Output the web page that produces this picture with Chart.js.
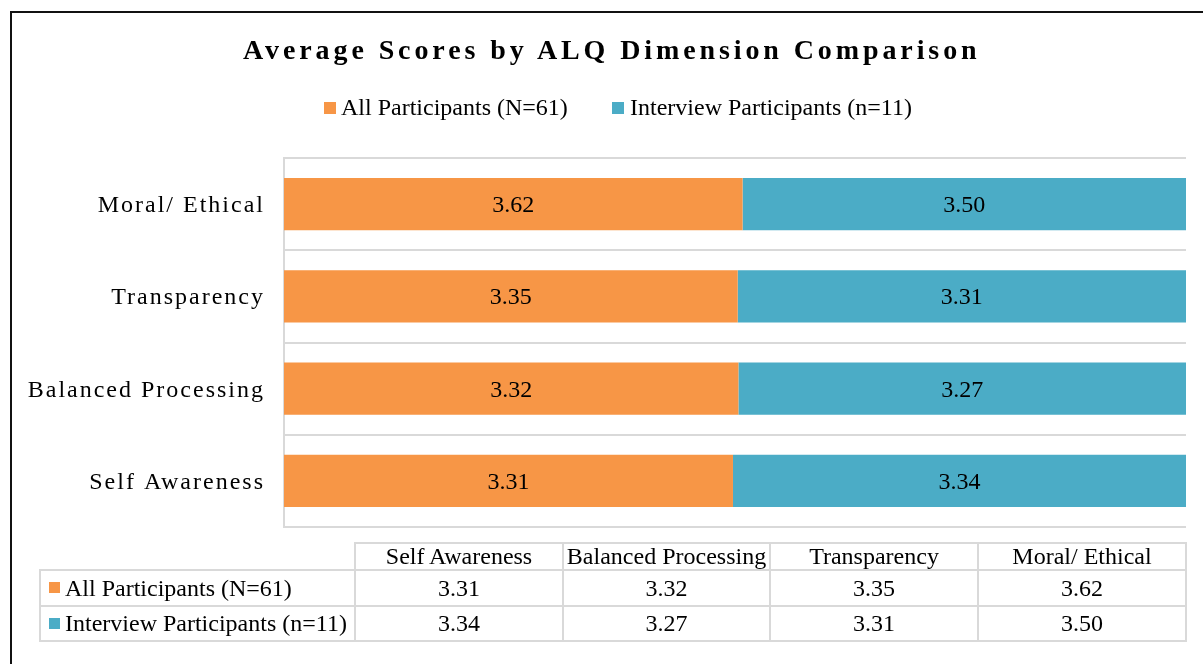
<!DOCTYPE html>
<html>
<head>
<meta charset="utf-8">
<script src="https://cdn.jsdelivr.net/npm/chart.js@4.4.0/dist/chart.umd.min.js"></script>
<style>
  html, body { margin:0; padding:0; background:#fff; }
  body { width:1203px; height:664px; position:relative; overflow:hidden;
         font-family:"Liberation Serif","Times New Roman",serif; color:#000; }
  #frame { position:absolute; left:10px; top:11px; width:1300px; height:700px;
           border:2px solid #111; box-sizing:border-box; }
  #chart { position:absolute; left:0; top:0; }
  .txt { position:absolute; white-space:nowrap; line-height:normal; }
  #title { font-size:28px; font-weight:bold; letter-spacing:3.9px; left:243px; top:34px; }
  .key { position:absolute; width:12px; height:12px; }
  .cell { position:absolute; box-sizing:border-box; border:2px solid #d9d9d9;
          font-size:24px; display:flex; align-items:center; justify-content:center; white-space:nowrap; }
  .cell.rowhead { justify-content:flex-start; padding-left:24px; }
  .cell .key { position:absolute; left:8px; top:50%; margin-top:-6px; width:11px; height:11px; }
</style>
</head>
<body>
<div id="frame"></div>
<canvas id="chart" width="1203" height="664"></canvas>
<div id="title" class="txt">Average Scores by ALQ Dimension Comparison</div>
<div id="legend"></div>
<div id="table"></div>
<script>
// ALQ dimensions, bottom-to-top on the chart (same order as the data table)
const categories = ["Self Awareness", "Balanced Processing", "Transparency", "Moral/ Ethical"];
const seriesNames = ["All Participants (N=61)", "Interview Participants (n=11)"];
const allParticipants = [3.31, 3.32, 3.35, 3.62];
const interviewParticipants = [3.34, 3.27, 3.31, 3.50];
const seriesColors = ["#F79646", "#4BACC6"];

const seriesValues = [allParticipants, interviewParticipants];

// 100% stacked: each bar shows its share of the category total
function shares(idx){
  return categories.map((_, i) => {
    const tot = allParticipants[i] + interviewParticipants[i];
    return seriesValues[idx][i] / tot;
  });
}

// legend (html)
const legend = document.getElementById("legend");
const legendPos = [{key:324, text:341}, {key:612, text:630}];
seriesNames.forEach((name, i) => {
  const k = document.createElement("div");
  k.className = "key";
  k.style.left = legendPos[i].key + "px";
  k.style.top = "102px";
  k.style.background = seriesColors[i];
  legend.appendChild(k);
  const t = document.createElement("div");
  t.className = "txt";
  t.style.fontSize = "24px";
  t.style.left = legendPos[i].text + "px";
  t.style.top = "94px";
  t.textContent = name;
  legend.appendChild(t);
});

// data table below the plot
const colEdges = [40, 355, 563, 770, 978, 1186];
const rowEdges = [543, 570, 606, 641];
const table = document.getElementById("table");
function addCell(c, r, text, cls, color){
  const d = document.createElement("div");
  d.className = "cell" + (cls ? " " + cls : "");
  d.style.left = (colEdges[c] - 1) + "px";
  d.style.top = (rowEdges[r] - 1) + "px";
  d.style.width = (colEdges[c+1] - colEdges[c] + 2) + "px";
  d.style.height = (rowEdges[r+1] - rowEdges[r] + 2) + "px";
  if (color){
    const k = document.createElement("span");
    k.className = "key";
    k.style.background = color;
    d.appendChild(k);
  }
  d.appendChild(document.createTextNode(text));
  table.appendChild(d);
}
categories.forEach((c, i) => addCell(i + 1, 0, c));
seriesNames.forEach((name, s) => {
  addCell(0, s + 1, name, "rowhead", seriesColors[s]);
  seriesValues[s].forEach((v, i) => addCell(i + 1, s + 1, v.toFixed(2)));
});

// category labels, letter-spaced like the original
const yLabelsPlugin = {
  id: "yLabels",
  afterDraw(chart){
    const ctx = chart.ctx, sc = chart.scales.y;
    ctx.save();
    ctx.font = "24px 'Liberation Serif', 'Times New Roman', serif";
    ctx.fillStyle = "#000";
    ctx.textAlign = "right";
    ctx.textBaseline = "alphabetic";
    ctx.letterSpacing = "2px";
    categories.forEach((lab, i) => {
      ctx.fillText(lab, 265, sc.getPixelForValue(i) + 8);
    });
    ctx.restore();
  }
};

// value labels centred in each segment
const valueLabelsPlugin = {
  id: "valueLabels",
  afterDatasetsDraw(chart){
    const ctx = chart.ctx;
    ctx.save();
    ctx.font = "24px 'Liberation Serif', 'Times New Roman', serif";
    ctx.fillStyle = "#000";
    ctx.textAlign = "center";
    ctx.textBaseline = "alphabetic";
    chart.data.datasets.forEach((ds, di) => {
      chart.getDatasetMeta(di).data.forEach((el, i) => {
        const p = el.getProps(["x", "base", "y"], true);
        ctx.fillText(ds.raw[i].toFixed(2), (p.x + p.base) / 2, p.y + 8);
      });
    });
    ctx.restore();
  }
};

new Chart(document.getElementById("chart"), {
  type: "bar",
  data: {
    labels: categories,
    datasets: seriesNames.map((name, s) => ({
      label: name,
      data: shares(s),
      raw: seriesValues[s],
      backgroundColor: seriesColors[s],
      borderWidth: 0,
      categoryPercentage: 1,
      barPercentage: 0.564
    }))
  },
  options: {
    indexAxis: "y",
    responsive: false,
    animation: false,
    devicePixelRatio: 1,
    layout: { padding: { left: 284, top: 158, right: 17, bottom: 137 } },
    plugins: { legend: { display: false }, title: { display: false }, tooltip: { enabled: false } },
    scales: {
      x: { stacked: true, display: false, min: 0, max: 1 },
      y: {
        stacked: true,
        reverse: true,
        grid: { offset: true, color: "#d9d9d9", lineWidth: 2, drawTicks: false },
        border: { display: true, color: "#d9d9d9", width: 2 },
        ticks: { display: false }
      }
    }
  },
  plugins: [yLabelsPlugin, valueLabelsPlugin]
});
</script>
</body>
</html>
